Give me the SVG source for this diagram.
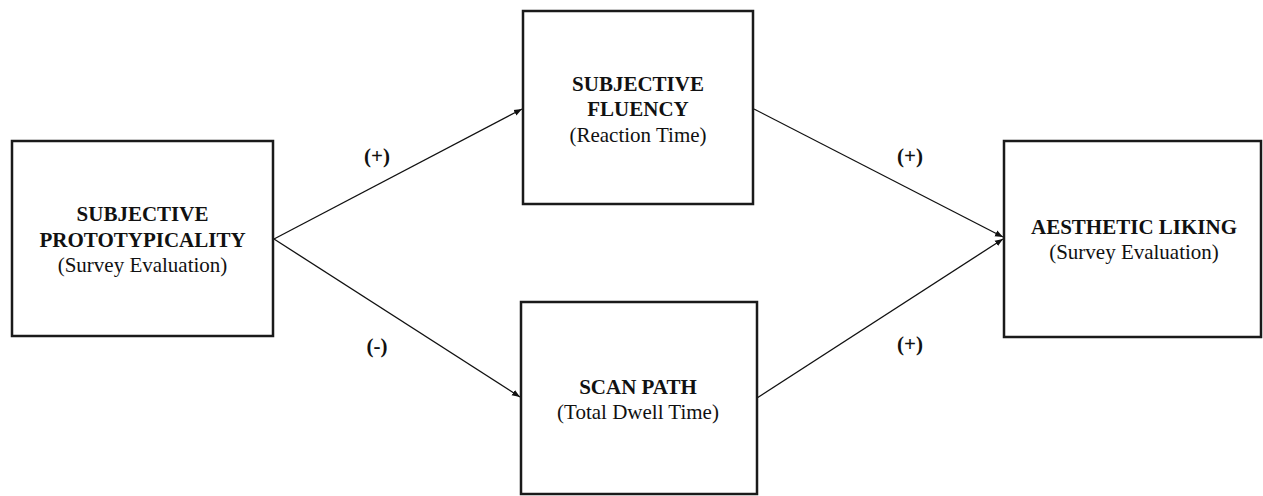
<svg xmlns="http://www.w3.org/2000/svg" width="1263" height="496" viewBox="0 0 1263 496">
<style>
.box{fill:#fff;stroke:#1a1a1a;stroke-width:2.5}
.t{font-family:"Liberation Serif","Times New Roman",serif;font-size:21px;fill:#111;text-anchor:middle}
.b{font-weight:bold}
.edge{stroke:#111;stroke-width:1.3;fill:none}
</style>
<defs>
<marker id="ah" viewBox="0 0 10 10" refX="10" refY="5" markerWidth="8" markerHeight="8" markerUnits="userSpaceOnUse" orient="auto">
<path d="M0,1 L10,5 L0,9 Z" fill="#111"/>
</marker>
</defs>
<rect width="1263" height="496" fill="#fff"/>
<g id="connectors">
<line class="edge" x1="274" y1="239" x2="522" y2="109" marker-end="url(#ah)"/>
<line class="edge" x1="274" y1="239" x2="520" y2="397" marker-end="url(#ah)"/>
<line class="edge" x1="754" y1="109" x2="1003" y2="237" marker-end="url(#ah)"/>
<line class="edge" x1="757" y1="398" x2="1003" y2="239" marker-end="url(#ah)"/>
<text class="t b" x="377" y="163">(+)</text>
<text class="t b" x="377" y="353">(-)</text>
<text class="t b" x="910" y="163">(+)</text>
<text class="t b" x="910" y="351">(+)</text>
</g>
<g id="prototypicality">
<rect class="box" x="12" y="141" width="261" height="195"/>
<text class="t b" x="142.5" y="221">SUBJECTIVE</text>
<text class="t b" x="142.5" y="247">PROTOTYPICALITY</text>
<text class="t" x="142.5" y="272">(Survey Evaluation)</text>
</g>
<g id="fluency">
<rect class="box" x="523" y="11" width="230" height="193"/>
<text class="t b" x="638" y="91">SUBJECTIVE</text>
<text class="t b" x="638" y="116">FLUENCY</text>
<text class="t" x="638" y="142">(Reaction Time)</text>
</g>
<g id="scanpath">
<rect class="box" x="521" y="302" width="236" height="192"/>
<text class="t b" x="638" y="394">SCAN PATH</text>
<text class="t" x="638" y="419">(Total Dwell Time)</text>
</g>
<g id="liking">
<rect class="box" x="1004" y="141" width="257" height="196"/>
<text class="t b" x="1134" y="234">AESTHETIC LIKING</text>
<text class="t" x="1134" y="259">(Survey Evaluation)</text>
</g>
</svg>
